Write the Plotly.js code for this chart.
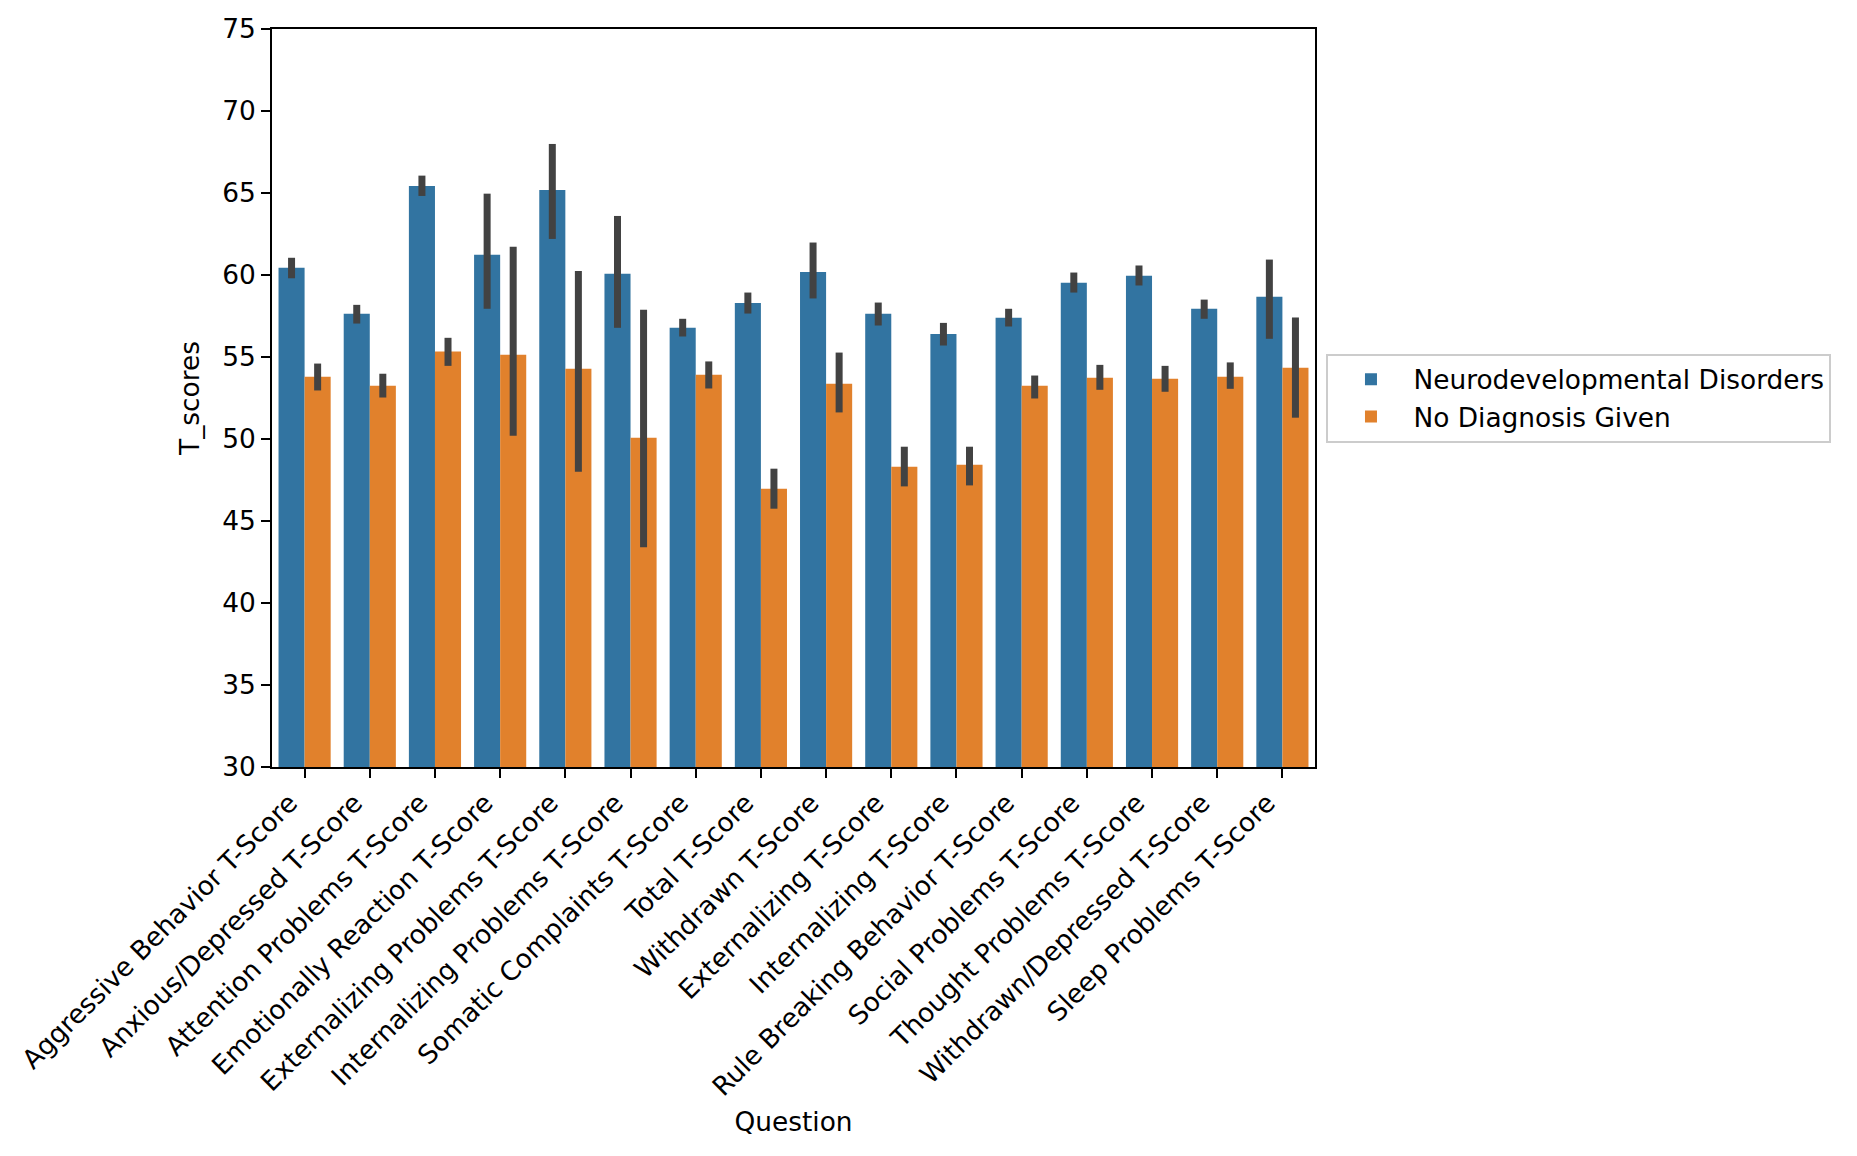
<!DOCTYPE html>
<html>
<head>
<meta charset="utf-8">
<script src="https://cdn.plot.ly/plotly-3.0.1.min.js"></script>
<style>html,body{margin:0;padding:0;background:#fff;}#chart{width:1857px;height:1156px;}</style>
</head>
<body>
<div id="chart"></div>
<script>
const categories = ["Aggressive Behavior T-Score","Anxious/Depressed T-Score","Attention Problems T-Score","Emotionally Reaction T-Score","Externalizing Problems T-Score","Internalizing Problems T-Score","Somatic Complaints T-Score","Total T-Score","Withdrawn T-Score","Externalizing T-Score","Internalizing T-Score","Rule Breaking Behavior T-Score","Social Problems T-Score","Thought Problems T-Score","Withdrawn/Depressed T-Score","Sleep Problems T-Score"];

const ndMean = [60.44, 57.63, 65.43, 61.23, 65.19, 60.07, 56.78, 58.30, 60.19, 57.63, 56.41, 57.39, 59.52, 59.95, 57.94, 58.67];
const ndLow  = [59.80, 57.04, 64.82, 57.94, 62.20, 56.78, 56.25, 57.65, 58.57, 56.92, 55.70, 56.86, 58.93, 59.36, 57.33, 56.11];
const ndHigh = [61.05, 58.18, 66.06, 64.96, 67.99, 63.60, 57.33, 58.93, 61.98, 58.32, 57.08, 57.94, 60.15, 60.58, 58.50, 60.94];

const noMean = [53.80, 53.24, 55.34, 55.13, 54.28, 50.08, 53.92, 46.97, 53.37, 48.31, 48.43, 53.24, 53.73, 53.67, 53.80, 54.34];
const noLow  = [52.96, 52.53, 54.46, 50.20, 48.00, 43.40, 53.08, 45.75, 51.62, 47.11, 47.17, 52.47, 53.00, 52.88, 53.06, 51.30];
const noHigh = [54.60, 53.98, 56.17, 61.72, 60.25, 57.88, 54.73, 48.19, 55.27, 49.53, 49.53, 53.87, 54.52, 54.46, 54.67, 57.41];

const seriesNames = ["Neurodevelopmental Disorders", "No Diagnosis Given"];
const yTicks = [30, 35, 40, 45, 50, 55, 60, 65, 70, 75];

const FONT = "DejaVu Sans, sans-serif";
const FS = 26.4;

function mkTrace(name, mean, lo, hi, color) {
  return {
    type: "bar",
    name: name,
    x: categories,
    y: mean,
    marker: {color: color, line: {width: 0}},
    error_y: {
      type: "data",
      symmetric: false,
      array: hi.map((h, i) => h - mean[i]),
      arrayminus: lo.map((l, i) => mean[i] - l),
      color: "#424242",
      thickness: 7,
      width: 0
    },
    hoverinfo: "x+y"
  };
}

const data = [
  mkTrace(seriesNames[0], ndMean, ndLow, ndHigh, "#3274a1"),
  mkTrace(seriesNames[1], noMean, noLow, noHigh, "#e1812c")
];

const layout = {
  width: 1857,
  height: 1156,
  margin: {l: 272, r: 542, t: 29, b: 389, pad: 0},
  paper_bgcolor: "#ffffff",
  plot_bgcolor: "#ffffff",
  barmode: "group",
  bargap: 0.2,
  bargroupgap: 0,
  font: {family: FONT, size: FS, color: "#000000"},
  showlegend: true,
  legend: {
    x: 1.011, xanchor: "left",
    y: 0.5, yanchor: "middle",
    bgcolor: "#ffffff",
    bordercolor: "#cccccc",
    borderwidth: 2,
    font: {family: FONT, size: FS, color: "#000000"},
    itemwidth: 75,
    tracegroupgap: 0
  },
  xaxis: {
    type: "category",
    range: [-0.5, 15.5],
    tickangle: -45,
    ticklabelshift: -15,
    ticklabelstandoff: -1,
    showgrid: false,
    zeroline: false,
    showline: true,
    mirror: true,
    linecolor: "#000000",
    linewidth: 2,
    ticks: "outside",
    ticklen: 9,
    tickwidth: 2,
    tickcolor: "#000000",
    tickfont: {family: FONT, size: FS, color: "#000000"},
    title: {text: "Question", font: {family: FONT, size: FS, color: "#000000"}, standoff: 12},
    automargin: false
  },
  yaxis: {
    range: [30, 75],
    tickvals: yTicks,
    ticktext: yTicks.map(String),
    showgrid: false,
    zeroline: false,
    showline: true,
    mirror: true,
    linecolor: "#000000",
    linewidth: 2,
    ticks: "outside",
    ticklen: 9,
    tickwidth: 2,
    tickcolor: "#000000",
    tickfont: {family: FONT, size: FS, color: "#000000"},
    title: {text: "T_scores", font: {family: FONT, size: FS, color: "#000000"}, standoff: 15},
    automargin: false
  }
};

Plotly.newPlot("chart", data, layout, {displayModeBar: false, staticPlot: true});
</script>
</body>
</html>
